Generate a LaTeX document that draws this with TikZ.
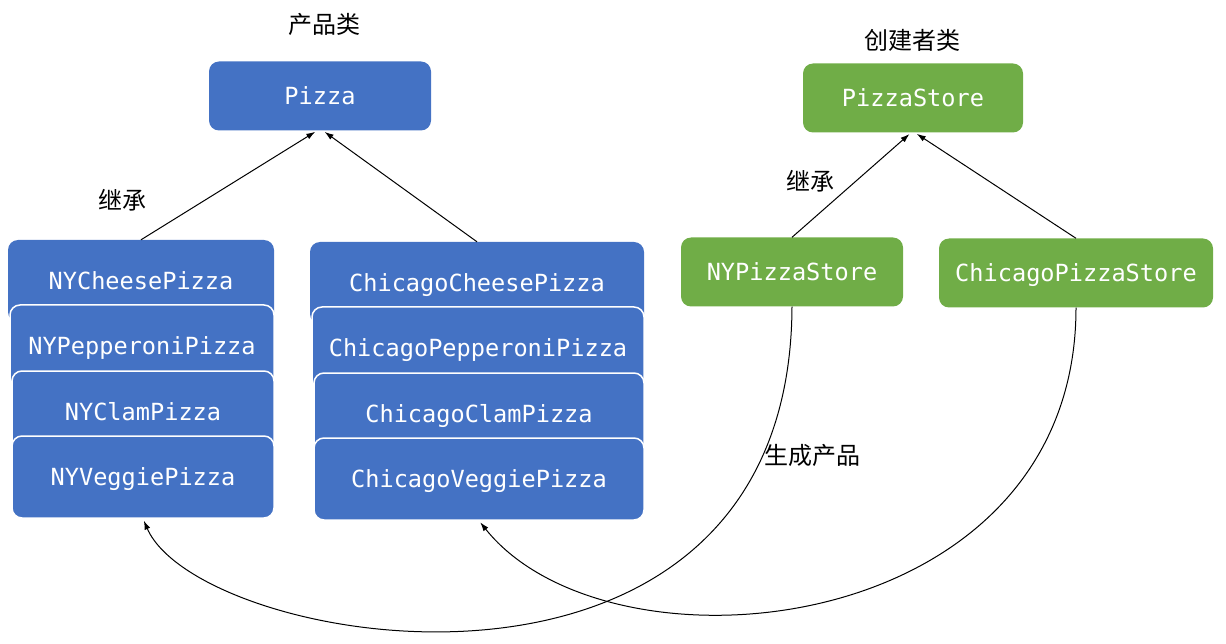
\documentclass[tikz,border=0pt]{standalone}
\usepackage{fontspec}
\usepackage{tikz}
\usetikzlibrary{arrows.meta,positioning,shapes}
\newfontfamily\codefont{DejaVu Sans Mono}
\newfontfamily\cjkfont{Noto Sans CJK SC}
\definecolor{prodblue}{HTML}{4472C4}
\definecolor{storegreen}{HTML}{70AD47}

\begin{document}
\begin{tikzpicture}[x=1pt, y=-1pt, shorten >=2pt, >={Latex[length=9pt,width=6pt]},
  class node/.style={rectangle, rounded corners=10pt, text=white, inner sep=0pt,
    font=\codefont\fontsize{23.6}{28}\selectfont, text height=17pt, text depth=0pt,
    minimum height=69pt},
  prod node/.style={class node, fill=prodblue},
  store node/.style={class node, fill=storegreen},
  stack node/.style={prod node, draw=white, line width=1.5pt, minimum height=82pt},
  label node/.style={font=\cjkfont\fontsize{24}{28}\selectfont, inner sep=0pt}]
\useasboundingbox (0,0) rectangle (1226,644);
\begin{scope}
% product side
\node[label node] (ptitle) at (324,24) {产品类};
\node[prod node, minimum width=222pt] (pizza) at (320,96) {Pizza};
\node[label node] (inh1) at (122,200) {继承};
\node[prod node, minimum width=266pt, minimum height=82pt] (ny1) at (141,281) {NYCheesePizza};
\node[stack node, minimum width=264pt] (ny2) at (142,346) {NYPepperoniPizza};
\node[stack node, minimum width=262pt] (ny3) at (143,412) {NYClamPizza};
\node[stack node, minimum width=262pt] (ny4) at (143,477) {NYVeggiePizza};
\node[prod node, minimum width=334pt, minimum height=82pt] (ch1) at (477,283) {ChicagoCheesePizza};
\node[stack node, minimum width=332pt] (ch2) at (478,348) {ChicagoPepperoniPizza};
\node[stack node, minimum width=330pt] (ch3) at (479,414) {ChicagoClamPizza};
\node[stack node, minimum width=330pt] (ch4) at (479,479) {ChicagoVeggiePizza};
% creator side
\node[label node] (ctitle) at (912,40) {创建者类};
\node[store node, minimum width=220pt] (store) at (913,98) {PizzaStore};
\node[label node] (inh2) at (810,181) {继承};
\node[store node, minimum width=222pt] (nys) at (792,272) {NYPizzaStore};
\node[store node, minimum width=274pt] (chs) at (1076,273) {ChicagoPizzaStore};
\node[label node] (make) at (812,455) {生成产品};
\end{scope}
\begin{scope}[every edge/.style={draw=black, line width=1pt}]
\draw (ny1.north) edge[->] ([xshift=-3pt]pizza.south);
\draw (ch1.north) edge[->] ([xshift=3pt]pizza.south);
\draw (nys.north) edge[->] ([xshift=-2pt]store.south);
\draw (chs.north) edge[->] ([xshift=2pt]store.south);
\end{scope}
\draw[->, line width=1pt] (nys.south) .. controls (790,750) and (200,650) .. (ny4.south);
\draw[->, line width=1pt] (chs.south) .. controls (1076,640) and (610,685) .. (ch4.south);
\end{tikzpicture}
\end{document}
